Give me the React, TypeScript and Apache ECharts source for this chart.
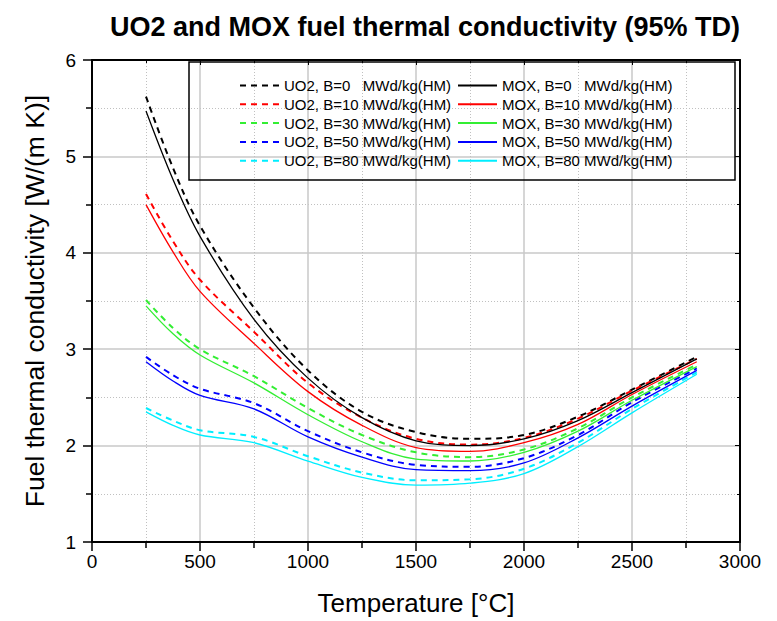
import React, { useEffect, useRef } from "react";
import * as echarts from "echarts";

const temperatures = [250, 375, 500, 750, 1000, 1250, 1500, 1750, 2000, 2250, 2500, 2800];

const uo2B0 = [5.62, 4.88, 4.28, 3.43, 2.78, 2.35, 2.14, 2.07, 2.11, 2.3, 2.58, 2.92];
const uo2B10 = [4.61, 4.12, 3.72, 3.18, 2.65, 2.29, 2.07, 2.01, 2.08, 2.28, 2.57, 2.9];
const uo2B30 = [3.51, 3.22, 3.0, 2.72, 2.39, 2.11, 1.93, 1.88, 1.96, 2.18, 2.5, 2.84];
const uo2B50 = [2.92, 2.73, 2.59, 2.44, 2.15, 1.93, 1.8, 1.78, 1.87, 2.11, 2.45, 2.8];
const uo2B80 = [2.39, 2.26, 2.16, 2.09, 1.89, 1.72, 1.64, 1.65, 1.76, 2.03, 2.38, 2.76];

const moxB0 = [5.47, 4.76, 4.17, 3.31, 2.7, 2.29, 2.05, 2.0, 2.07, 2.26, 2.55, 2.9];
const moxB10 = [4.5, 4.01, 3.6, 3.06, 2.56, 2.21, 1.98, 1.94, 2.03, 2.22, 2.53, 2.87];
const moxB30 = [3.45, 3.16, 2.94, 2.65, 2.32, 2.04, 1.86, 1.84, 1.93, 2.15, 2.47, 2.82];
const moxB50 = [2.87, 2.67, 2.52, 2.38, 2.09, 1.88, 1.75, 1.74, 1.82, 2.08, 2.41, 2.78];
const moxB80 = [2.35, 2.21, 2.11, 2.03, 1.84, 1.67, 1.59, 1.61, 1.71, 1.99, 2.34, 2.74];

const burnups = ["0", "10", "30", "50", "80"];
const colors = ["#000000", "#ff0000", "#33ee33", "#0000ff", "#00eeff"];
const uo2Values = [uo2B0, uo2B10, uo2B30, uo2B50, uo2B80];
const moxValues = [moxB0, moxB10, moxB30, moxB50, moxB80];

const titleText = "UO2 and MOX fuel thermal conductivity (95% TD)";
const xName = "Temperature [°C]";
const yName = "Fuel thermal conductivity [W/(m K)]";

const FONT = '"Liberation Sans", Arial, sans-serif';

const label = (fuel: string, b: string) =>
  `${fuel}, B=${b}${b === "0" ? "\u00a0\u00a0\u00a0" : " "}MWd/kg(HM)`;

export default function App() {
  const ref = useRef<HTMLDivElement>(null);
  useEffect(() => {
    document.body.style.margin = "0";
    if (!ref.current) return;
    const chart = echarts.init(ref.current, null, { renderer: "svg" });

    const mk = (fuel: string, vals: number[][], dashed: boolean) =>
      burnups.map((b, i) => ({
        name: label(fuel, b),
        type: "line",
        data: temperatures.map((t, k) => [t, vals[i][k]]),
        smooth: 0.35,
        symbol: "none",
        showSymbol: false,
        xAxisIndex: 0,
        yAxisIndex: 0,
        lineStyle: {
          color: colors[i],
          width: dashed ? 2 : 1.3,
          type: dashed ? [6, 5] : "solid",
        },
        itemStyle: { color: colors[i] },
      }));

    const uo2Series = mk("UO2", uo2Values, true);
    const moxSeries = mk("MOX", moxValues, false);

    const gridLeft = 92;
    const gridTop = 60;
    const gridRight = 777 - 740;
    const gridBottom = 621 - 542;

    const legendCommon = {
      orient: "vertical" as const,
      top: 78,
      padding: 0,
      itemWidth: 39,
      itemHeight: 14,
      itemGap: 3.8,
      selectedMode: false,
      itemStyle: { opacity: 0 },
      textStyle: { fontFamily: FONT, fontSize: 15, color: "#000" },
    };

    const option: any = {
      animation: false,
      backgroundColor: "#fff",
      title: {
        text: titleText,
        left: 110,
        top: 13,
        padding: 0,
        textStyle: { fontFamily: FONT, fontSize: 27, fontWeight: "bold", color: "#000" },
      },
      grid: { left: gridLeft, right: gridRight, top: gridTop, bottom: gridBottom },
      legend: [
        { ...legendCommon, left: 239, data: uo2Series.map((s) => s.name) },
        { ...legendCommon, left: 457, data: moxSeries.map((s) => s.name) },
      ],
      graphic: [
        {
          type: "rect",
          shape: { x: 189, y: 62, width: 546, height: 118 },
          style: { fill: "rgba(0,0,0,0)", stroke: "#000", lineWidth: 1.5 },
          z: 100,
        },
      ],
      xAxis: [
        {
          type: "value",
          min: 0,
          max: 3000,
          interval: 500,
          name: xName,
          nameLocation: "middle",
          nameGap: 48,
          nameTextStyle: { fontFamily: FONT, fontSize: 26, color: "#000" },
          axisLine: { show: true, onZero: false, lineStyle: { color: "#000", width: 2 } },
          axisTick: { show: true, length: 9, lineStyle: { color: "#000", width: 1.5 } },
          minorTick: { show: true, splitNumber: 2, length: 6, lineStyle: { color: "#000", width: 1.5 } },
          axisLabel: {
            fontFamily: FONT,
            fontSize: 19,
            color: "#000",
            margin: 10,
            formatter: (v: number) => String(v),
          },
          splitLine: { show: true, lineStyle: { color: "#c8c8c8", width: 1.5 } },
          minorSplitLine: { show: true, lineStyle: { color: "#c0c0c0", width: 1, type: [1, 2] } },
        },
        {
          type: "value",
          position: "top",
          min: 0,
          max: 3000,
          interval: 500,
          axisLine: { show: true, onZero: false, lineStyle: { color: "#000", width: 2 } },
          axisTick: { show: true, inside: true, length: 5, lineStyle: { color: "#000", width: 1 } },
          minorTick: { show: true, splitNumber: 2, length: 3, lineStyle: { color: "#000", width: 1 } },
          axisLabel: { show: false },
          splitLine: { show: false },
        },
      ],
      yAxis: [
        {
          type: "value",
          min: 1,
          max: 6,
          interval: 1,
          name: yName,
          nameLocation: "middle",
          nameRotate: 90,
          nameGap: 44,
          nameTextStyle: { fontFamily: FONT, fontSize: 26.5, color: "#000" },
          axisLine: { show: true, onZero: false, lineStyle: { color: "#000", width: 2 } },
          axisTick: { show: true, length: 9, lineStyle: { color: "#000", width: 1.5 } },
          minorTick: { show: true, splitNumber: 2, length: 6, lineStyle: { color: "#000", width: 1.5 } },
          axisLabel: {
            fontFamily: FONT,
            fontSize: 19,
            color: "#000",
            margin: 16,
            formatter: (v: number) => String(v),
          },
          splitLine: { show: true, lineStyle: { color: "#c8c8c8", width: 1.5 } },
          minorSplitLine: { show: true, lineStyle: { color: "#c0c0c0", width: 1, type: [1, 2] } },
        },
        {
          type: "value",
          position: "right",
          min: 1,
          max: 6,
          interval: 1,
          axisLine: { show: true, onZero: false, lineStyle: { color: "#000", width: 2 } },
          axisTick: { show: true, inside: true, length: 5, lineStyle: { color: "#000", width: 1 } },
          minorTick: { show: true, splitNumber: 2, length: 3, lineStyle: { color: "#000", width: 1 } },
          axisLabel: { show: false },
          splitLine: { show: false },
        },
      ],
      series: [...uo2Series, ...moxSeries],
    };

    chart.setOption(option);
    return () => chart.dispose();
  }, []);

  return <div ref={ref} style={{ width: 777, height: 621 }} />;
}
